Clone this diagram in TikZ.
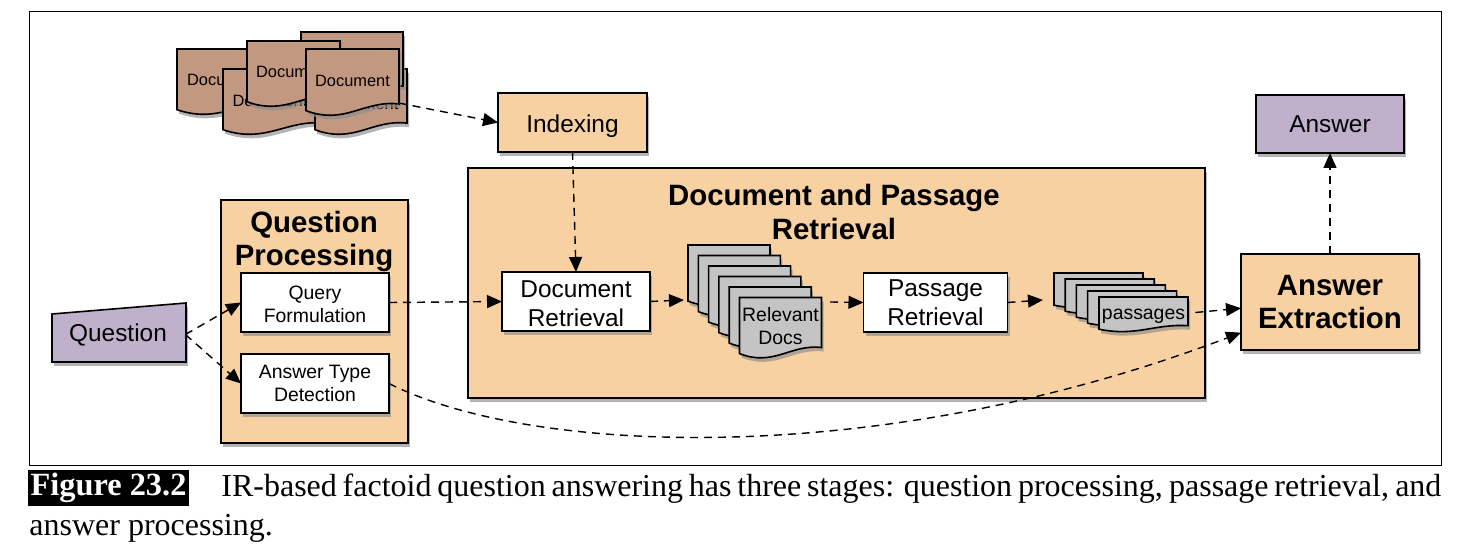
\documentclass[tikz,border=0pt]{standalone}
\usepackage{fontspec}
\setmainfont{Liberation Sans}
\newfontfamily\capfont{Liberation Serif}
\usetikzlibrary{arrows.meta,shadows}

\definecolor{peach}{HTML}{F7D1A2}
\definecolor{lilac}{HTML}{BFB1CB}
\definecolor{brownpage}{HTML}{C39880}
\definecolor{graypage}{HTML}{C4C4C4}

\tikzset{
  softshadow/.style={drop shadow={shadow xshift=1pt, shadow yshift=-2pt, fill=black!45, opacity=.65}},
  box/.style={draw, line width=.8pt, outer sep=0pt, inner sep=0pt, align=center, softshadow},
  flow/.style={line width=.7pt, dash pattern=on 4pt off 3pt, -{Triangle[length=7.5pt,width=6.5pt]}},
  bigfont/.style={font=\fontsize{12.2}{14.5}\selectfont},
  smallfont/.style={font=\fontsize{9.7}{11.5}\selectfont},
  boldfont/.style={font=\fontsize{14.7}{16.8}\selectfont\bfseries},
  pagefont/.style={font=\fontsize{8.2}{10}\selectfont},
}

% text moved down inside its box
\newcommand{\lowered}[2]{\raisebox{-#1}[\height][\depth]{#2}}

% page with a wavy lower edge: fill, name, x, y, width, height, font, text
\newcommand{\docpage}[8]{
  \draw[line width=.8pt, fill=#1, softshadow, shift={(#3,#4)}]
    (0,0) -- (#5,0) -- (#5,.82*#6)
    .. controls (.62*#5,.76*#6) and (.42*#5,1.14*#6) .. (0,.92*#6) -- cycle;
  \node[#7, align=center, inner sep=0pt] (#2) at (#3+.5*#5,#4+.47*#6) {#8};
}

\begin{document}
\begin{tikzpicture}[x=.5pt, y=-.5pt]

\useasboundingbox (0,0) rectangle (1462,550);

% frame
\draw[line width=.4pt] (29,11) rectangle (1441,465);

% documents
\docpage{brownpage}{doca}{177}{49}{102}{66}{pagefont, xshift=-1.75pt}{Document}
\docpage{brownpage}{docb}{223}{69}{102}{66}{pagefont, xshift=-2pt, yshift=-.5pt}{Document}
\docpage{brownpage}{docc}{315}{69}{92}{66}{pagefont, yshift=-2pt}{Document}
\docpage{brownpage}{docd}{301}{32}{102}{66}{pagefont}{}
\docpage{brownpage}{doce}{247}{41}{93}{66}{pagefont}{Document}
\docpage{brownpage}{docf}{306}{49}{93}{67}{pagefont}{Document}

% upper boxes
\node[box, fill=peach, bigfont, minimum width=74.5pt, minimum height=29.5pt] (indexing) at (572.5,122.5) {\lowered{2pt}{Indexing}};
\node[box, fill=lilac, bigfont, minimum width=74pt, minimum height=29pt] (answer) at (1330,124) {Answer};

% large stages
\node[box, fill=peach, minimum width=93.5pt, minimum height=121.5pt] (qproc) at (314.5,321.5) {};
\node[boldfont, align=center] (qtitle) at (314,241.5) {Question\\Processing};
\node[box, fill=peach, minimum width=368.5pt, minimum height=115pt] (retrieval) at (836.5,283) {};
\node[boldfont, align=center] (rtitle) at (834,212) {Document and Passage\\Retrieval};
\node[box, fill=peach, boldfont, minimum width=89pt, minimum height=48pt] (answerx) at (1330,302) {Answer\\Extraction};

% question
\draw[line width=.8pt, fill=lilac, softshadow] (52,314) -- (186,303) -- (186,362) -- (52,362) -- cycle;
\node[bigfont, minimum width=67pt, minimum height=29pt, inner sep=0pt] (question) at (118,334.5) {Question};

% inner boxes
\node[box, fill=white, smallfont, minimum width=74pt, minimum height=29.5pt] (query) at (315,302.5) {\lowered{1pt}{Query}\\\lowered{1pt}{Formulation}};
\node[box, fill=white, smallfont, minimum width=74pt, minimum height=29.5pt] (anstype) at (315,383.5) {Answer Type\\Detection};
\node[box, fill=white, bigfont, minimum width=74pt, minimum height=29.5pt] (docret) at (576,301.5) {\lowered{1pt}{Document}\\\lowered{1pt}{Retrieval}};
\node[box, fill=white, bigfont, minimum width=72pt, minimum height=29.5pt] (passret) at (935.5,302.5) {Passage\\Retrieval};

% relevant docs
\foreach \i [evaluate=\i as \px using 688+10.3*\i, evaluate=\i as \py using 245+10.5*\i] in {0,...,4}
  \docpage{graypage}{relevant\i}{\px}{\py}{82}{61}{smallfont}{};
\docpage{graypage}{relevant}{739.5}{297.5}{82}{61}{smallfont}{Relevant\\Docs}

% passages
\foreach \i [evaluate=\i as \px using 1054+11.2*\i, evaluate=\i as \py using 273+6*\i] in {0,...,3}
  \docpage{graypage}{passage\i}{\px}{\py}{89}{35}{smallfont}{};
\docpage{graypage}{passages}{1099}{297}{89}{35}{smallfont, yshift=-1.5pt}{passages}

\coordinate (relevantin) at (684,300);
\coordinate (relevantout) at (830,302);
\coordinate (passagein) at (1043,300);

% connectors
\draw[flow] (docc.east) ++(0,-1) -- (indexing.west);
\draw[flow] (indexing.south) -- (docret.north);
\draw[flow] (question.east) -- (query.west);
\draw[flow] (question.east) -- (anstype.west);
\draw[flow] (query.east) -- (docret.west);
\draw[flow] (docret.east) -- (relevantin);
\draw[flow] (relevantout) -- (passret.west);
\draw[flow] (passret.east) -- (passagein);
\draw[flow, shorten <=5pt] ([yshift=1.5pt]passages.east) -- (answerx.184);
\draw[flow] (anstype.east) .. controls (530,455) and (880,470) .. (answerx.199);
\draw[flow] (answerx.north) -- (answer.south);

% caption
\node[fill=black, text=white, font=\capfont\fontsize{16.2}{18}\selectfont\bfseries, inner sep=0pt, minimum width=80.5pt, minimum height=18pt] (figlabel) at (108.5,488) {Figure 23.2};
\node[font=\capfont\fontsize{16}{18}\selectfont, anchor=base west, inner sep=0pt] (captionone) at (221,496)
  {\makebox[610pt][s]{IR-based factoid question answering has three stages: question processing, passage retrieval, and}};
\node[font=\capfont\fontsize{16}{18}\selectfont, anchor=base west, inner sep=0pt] (captiontwo) at (29,535) {answer processing.};

\end{tikzpicture}
\end{document}
